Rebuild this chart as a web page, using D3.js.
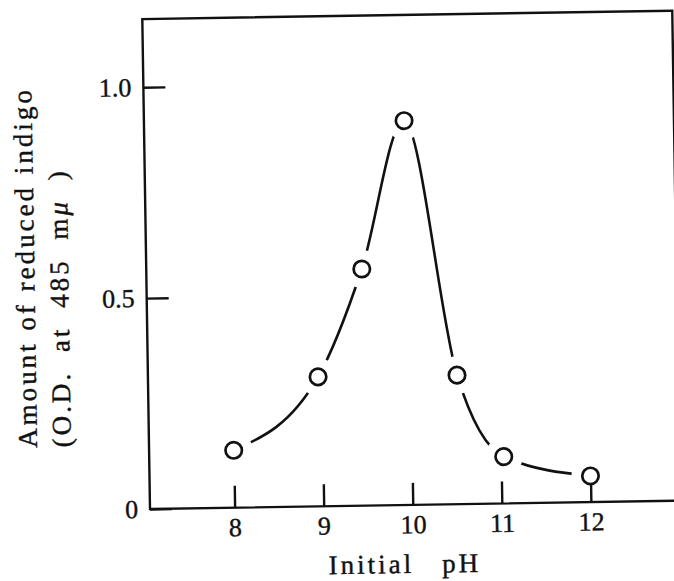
<!DOCTYPE html>
<html>
<head>
<meta charset="utf-8">
<script src="https://cdn.jsdelivr.net/npm/d3@7"></script>
<style>
  body { margin: 0; background: #ffffff; }
  text { font-family: "Liberation Serif", "DejaVu Serif", serif; fill: #111; stroke: #111; stroke-width: 0.4px; }
</style>
</head>
<body>
<div id="chart"></div>
<script>
// values
let phValues = [8.0, 8.96, 9.47, 9.97, 10.52, 11.03, 12.0]
let amounts = [0.136, 0.307, 0.561, 0.911, 0.306, 0.111, 0.062]
let xTicks = [8, 9, 10, 11, 12]
let yTicks = [0, 0.5, 1.0]
let xTitle = ["Initial", "pH"]
let yTitle = ["Amount of reduced indigo", "(O.D. at 485 m", "\u03bc", " )"]

let margin = { top: 19, left: 150, right: -6, bottom: 72 },
  width = 674 - margin.left - margin.right,
  height = 581 - margin.top - margin.bottom

let svg = d3.select("#chart")
  .append("svg")
  .attr("width", 674)
  .attr("height", 581)
  .style("background-color", "#FFFFFF")

// the scan is a little tilted, so turn the whole plot about its origin
let g = svg.append("g")
  .attr("transform", "rotate(-0.9," + margin.left + "," + (margin.top + height) + ") translate(" + margin.left + "," + margin.top + ")")

let x = d3.scaleLinear().domain([7.05, 13]).range([0, width])
let y = d3.scaleLinear().domain([0, height / 421.8]).range([height, 0])

let points = phValues.map(function(d, i) { return { ph: d, amount: amounts[i] } })

// smooth curve through the points
let line = d3.line()
  .curve(d3.curveMonotoneX)
  .x(function(d) { return x(d.ph) })
  .y(function(d) { return y(d.amount) })

g.append("path")
  .datum(points)
  .attr("d", line)
  .attr("fill", "none")
  .attr("stroke", "#111")
  .attr("stroke-width", 2.6)

// white halos leave the gap between curve and circles
g.selectAll(".halo")
  .data(points)
  .enter().append("circle")
  .attr("class", "halo")
  .attr("cx", function(d) { return x(d.ph) })
  .attr("cy", function(d) { return y(d.amount) })
  .attr("r", 19)
  .attr("fill", "#fff")

// frame
g.append("rect")
  .attr("width", width)
  .attr("height", height)
  .attr("fill", "none")
  .attr("stroke", "#111")
  .attr("stroke-width", 2.4)

let xAxis = g.append("g")
  .attr("transform", "translate(0," + height + ")")
  .call(d3.axisBottom(x).tickValues(xTicks).tickSizeInner(-22).tickSizeOuter(0).tickPadding(10)
    .tickFormat(d3.format("d")))

let yAxis = g.append("g")
  .call(d3.axisLeft(y).tickValues(yTicks).tickSizeInner(-22).tickSizeOuter(0).tickPadding(12)
    .tickFormat(function(d) { return d === 0 ? "0" : d3.format(".1f")(d) }))

;[xAxis, yAxis].forEach(function(a) {
  a.select(".domain").remove()
  a.selectAll("line").attr("stroke", "#111").attr("stroke-width", 2.4)
  a.selectAll("text")
    .attr("font-family", "Liberation Serif")
    .attr("font-size", 26)
    .attr("fill", "#111")
})

// markers
g.selectAll(".dot")
  .data(points)
  .enter().append("circle")
  .attr("class", "dot")
  .attr("cx", function(d) { return x(d.ph) })
  .attr("cy", function(d) { return y(d.amount) })
  .attr("r", 8.2)
  .attr("fill", "#fff")
  .attr("stroke", "#111")
  .attr("stroke-width", 2.7)

// x axis title
let xt = g.append("text")
  .attr("x", 254)
  .attr("y", height + 68)
  .attr("text-anchor", "middle")
  .attr("font-size", 27)
  .style("letter-spacing", "3px")
xt.append("tspan").text(xTitle[0])
xt.append("tspan").attr("dx", 28).text(xTitle[1])

// y axis title, two lines reading upwards
g.append("text")
  .attr("transform", "translate(-112," + (height - 63) + ") rotate(-90)")
  .attr("font-size", 27)
  .style("letter-spacing", "3px")
  .style("word-spacing", "1px")
  .text(yTitle[0])

let yt2 = g.append("text")
  .attr("transform", "translate(-78," + (height - 63) + ") rotate(-90)")
  .attr("font-size", 27)
  .style("letter-spacing", "3px")
  .style("word-spacing", "9px")
yt2.append("tspan").text(yTitle[1])
yt2.append("tspan").attr("font-style", "italic").text(yTitle[2])
yt2.append("tspan").text(yTitle[3])
</script>
</body>
</html>
